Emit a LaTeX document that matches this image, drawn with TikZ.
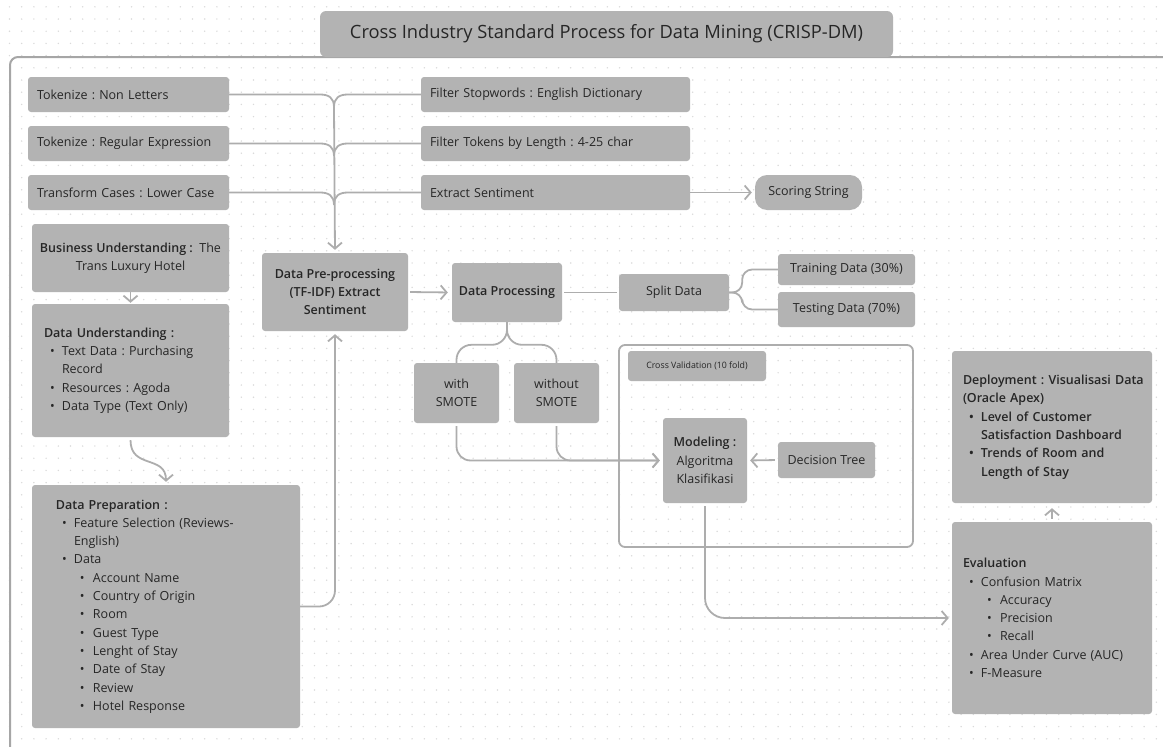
\documentclass[tikz,border=0pt]{standalone}
\usepackage{fontspec}
\IfFontExistsTF{Open Sans SemiBold}{%
  \setmainfont{Open Sans}[BoldFont={Open Sans SemiBold}]}{%
  \IfFontExistsTF{Open Sans Semibold}{%
    \setmainfont{Open Sans}[BoldFont={Open Sans Semibold}]}{%
    \setmainfont{Open Sans}}}
\frenchspacing
\usetikzlibrary{%
  arrows.meta,% barb tips
  positioning,%
  calc%
}
\definecolor{boxgray}{HTML}{B3B3B3}
\definecolor{linegray}{HTML}{ADADAD}
\definecolor{framegray}{HTML}{A6A6A6}
\definecolor{txtgray}{HTML}{262626}
\definecolor{dotgray}{HTML}{DADADA}
\newcommand{\bl}[1]{\makebox[18pt][l]{\hspace{6pt}\textbullet}#1}
\newcommand{\bll}[1]{\makebox[37pt][l]{\hspace{24pt}\textbullet}#1}
\newcommand{\blc}[1]{\hspace*{18pt}#1}

\begin{document}
\begin{tikzpicture}[x=1pt, y=-1pt,
  font=\fontsize{12.5}{18.3}\selectfont, text=txtgray,
  >={Straight Barb[length=6pt,width=14pt]},
  opbox/.style={rectangle, fill=boxgray, rounded corners=3pt, minimum height=35pt, inner xsep=9pt, inner ysep=0pt, align=left, text width=#1},
  cbox/.style={rectangle, fill=boxgray, rounded corners=3pt, inner sep=1pt, align=center},
  listbox/.style={rectangle, fill=boxgray, rounded corners=3pt, inner ysep=0pt, align=left},
  conn/.style={draw=linegray, line width=1.8pt, rounded corners=14pt}
]
\path[use as bounding box] (0,0) rectangle (1163,747);
\clip (0,0) rectangle (1163,747);
\foreach \i in {0,...,95}
  \foreach \j in {0,...,61}
    \fill[dotgray] (9.5+12.2*\i, 6.8+12.2*\j) circle (0.8pt);

\draw[framegray, line width=2pt, rounded corners=8pt] (10,57) rectangle (1210,800);
\node[rectangle, fill=boxgray, rounded corners=6pt, minimum width=573pt, minimum height=46pt, font=\fontsize{18.3}{21}\selectfont] (title) at (606.5,34) {Cross Industry Standard Process for Data Mining (CRISP-DM)};

\node[opbox=183pt] (tok1) at (128.5,94.5) {Tokenize : Non Letters};
\node[opbox=183pt] (tok2) at (128.5,143.5) {Tokenize : Regular Expression};
\node[opbox=183pt] (tok3) at (128.5,192.5) {Transform Cases : Lower Case};
\node[opbox=251pt] (flt1) at (555.5,94.5) {Filter Stopwords : English Dictionary};
\node[opbox=251pt] (flt2) at (555.5,143.5) {Filter Tokens by Length : 4-25 char};
\node[opbox=251pt] (flt3) at (555.5,192.5) {Extract Sentiment};
\node[cbox, rounded corners=12pt, minimum width=107pt, minimum height=35pt] (score) at (808.5,192.5) {Scoring String};

\node[cbox, minimum width=197pt, minimum height=68pt] (bu) at (130.5,258) {\textbf{Business Understanding :}\ \ The\\Trans Luxury Hotel};
\node[listbox, text width=173pt, inner xsep=12pt, minimum height=133pt] (du) at (130.5,370.5) {\textbf{Data Understanding :}\\
  \bl{Text Data : Purchasing}\\
  \blc{Record}\\
  \bl{Resources : Agoda}\\
  \bl{Data Type (Text Only)}};
\node[listbox, text width=220pt, inner xsep=24pt, minimum height=243pt] (dprep) at (166,606.5) {\textbf{Data Preparation :}\\
  \bl{Feature Selection (Reviews-}\\
  \blc{English)}\\
  \bl{Data}\\
  \bll{Account Name}\\
  \bll{Country of Origin}\\
  \bll{Room}\\
  \bll{Guest Type}\\
  \bll{Lenght of Stay}\\
  \bll{Date of Stay}\\
  \bll{Review}\\
  \bll{Hotel Response}};

\node[cbox, minimum width=146pt, minimum height=78pt, font=\fontsize{12.5}{18.3}\selectfont\bfseries] (pre) at (335,292) {Data Pre-processing\\(TF-IDF) Extract\\Sentiment};
\node[cbox, minimum width=110pt, minimum height=59pt, font=\fontsize{12.5}{18.3}\selectfont\bfseries] (dp) at (507,292.5) {Data Processing};
\node[cbox, minimum width=110pt, minimum height=37pt] (split) at (674,292.5) {Split Data};
\node[cbox, minimum width=137pt, minimum height=31pt] (train) at (846.5,269.5) {Training Data (30\%)};
\node[cbox, minimum width=137pt, minimum height=35pt] (test) at (846.5,309.5) {Testing Data (70\%)};
\node[cbox, minimum width=85pt, minimum height=60pt] (ws) at (456.5,393) {with\\SMOTE};
\node[cbox, minimum width=85pt, minimum height=60pt] (wos) at (556.5,393) {without\\SMOTE};

\node[draw=linegray, line width=1.8pt, rounded corners=6pt, minimum width=294pt, minimum height=202pt] (cv) at (766,446) {};
\node[cbox, minimum width=138pt, minimum height=30pt, font=\fontsize{8.8}{10}\selectfont] (cvl) at (697,366) {Cross Validation (10 fold)};
\node[cbox, minimum width=84pt, minimum height=85pt] (mod) at (705,460.5) {\textbf{Modeling :}\\Algoritma\\Klasifikasi};
\node[cbox, minimum width=97pt, minimum height=36pt] (dt) at (826.5,460) {Decision Tree};

\node[listbox, text width=178pt, inner xsep=11pt, minimum height=152pt, font=\fontsize{12.5}{18.3}\selectfont\bfseries] (dep) at (1052,427) {\mbox{Deployment\,\,: Visualisasi Data}\\
  (Oracle Apex)\\
  \bl{Level of Customer}\\
  \blc{Satisfaction Dashboard}\\
  \bl{Trends of Room and}\\
  \blc{Length of Stay}};
\node[listbox, text width=178pt, inner xsep=11pt, minimum height=192pt] (eval) at (1052,618) {\textbf{Evaluation}\\
  \bl{Confusion Matrix}\\
  \bll{Accuracy}\\
  \bll{Precision}\\
  \bll{Recall}\\
  \bl{Area Under Curve (AUC)}\\
  \bl{F-Measure}};

\coordinate (j1) at (334,107);
\coordinate (j2) at (334,156);
\coordinate (j3) at (334,205);
\foreach \n in {1,2,3} {
  \draw[conn, sharp corners] (tok\n.east) -- ($(tok\n.east -| j\n)+(-14,0)$) .. controls +(9,0) and +(0,-9) .. (j\n);
  \draw[conn, sharp corners] (flt\n.west) -- ($(flt\n.west -| j\n)+(14,0)$) .. controls +(-9,0) and +(0,-9) .. (j\n);
}
\draw[conn,->,shorten >=3pt] (j1) -- (pre.north);
\draw[conn,->,shorten >=3pt] (flt3.east) -- (score.west);

\draw[conn,->,shorten >=1pt] (bu.south) -- (du.north);
\draw[conn,->,shorten <=3pt,shorten >=3pt] (du.south) .. controls +(0,32) and +(0,-30) .. (dprep.north);
\draw[conn,->,shorten >=3pt,rounded corners=16pt] (dprep.east) -| (pre.south);

\draw[conn,->,shorten <=2pt,shorten >=4pt] (pre.east) -- (dp.west);
\draw[conn,shorten <=2pt,shorten >=2pt] (dp.east) -- (split.west);
\draw[conn,rounded corners=10pt] (split.east) -- ++(13,0) |- (train.west);
\draw[conn,rounded corners=10pt] (split.east) -- ++(13,0) |- (test.west);

\draw[conn,rounded corners=15pt] (dp.south) |- ($(ws.north)+(0,-18)$) -- (ws.north);
\draw[conn,rounded corners=15pt] (dp.south) |- ($(wos.north)+(0,-18)$) -- (wos.north);
\draw[conn,->,shorten <=3pt,shorten >=3pt] (ws.south) |- (mod.west);
\draw[conn,->,shorten <=3pt,shorten >=3pt] (wos.south) |- (mod.west);
\draw[conn,->,shorten <=3pt,shorten >=3pt] (dt.west) -- (mod.east);
\draw[conn,->,rounded corners=20pt,shorten <=3pt,shorten >=3pt] (mod.south) |- (eval.west);
\draw[conn,->,shorten <=3pt,shorten >=5pt] (eval.north) -- (dep.south);
\end{tikzpicture}
\end{document}
